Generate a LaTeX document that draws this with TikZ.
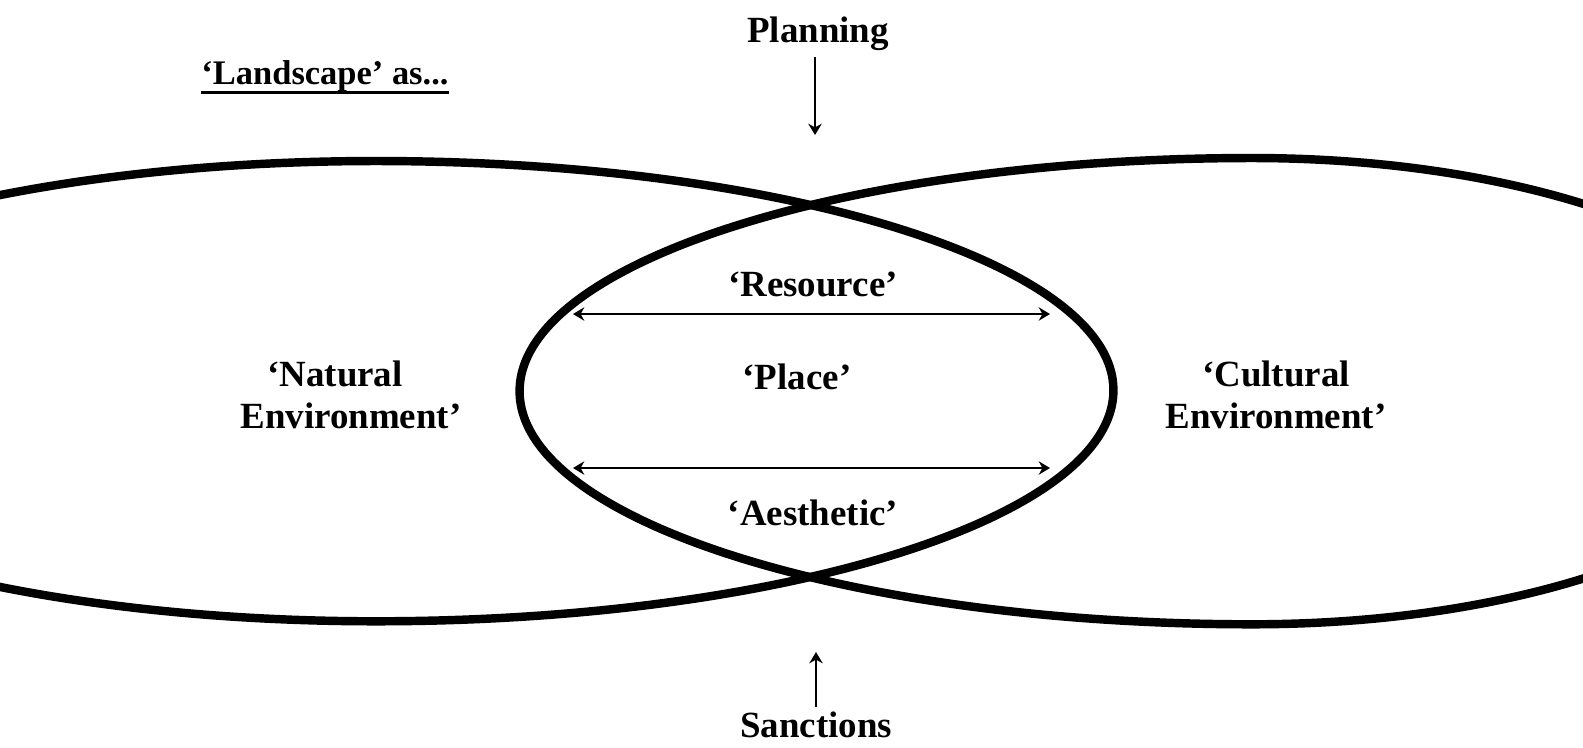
\documentclass[tikz,border=0pt]{standalone}
\usepackage{fontspec}
\setmainfont{Liberation Serif}
\usetikzlibrary{arrows.meta}
\begin{document}
\begin{tikzpicture}[x=0.01cm,y=-0.01cm,
  lbl/.style={font=\fontsize{10.5}{11.7}\selectfont\bfseries, inner sep=0pt, anchor=base, align=center},
  lens/.style={line width=2.4pt, line cap=round, line join=round},
  arr/.style={line width=0.55pt, -{Stealth[length=3.2pt,width=3.8pt]}},
  darr/.style={line width=0.55pt, {Stealth[length=3.2pt,width=3.8pt]}-{Stealth[length=3.2pt,width=3.8pt]}}]
\useasboundingbox (0,0) rectangle (1583,747);
\begin{scope}
  \clip (0,0) rectangle (1583,747);
  % left shape ('Natural Environment')
  \draw[lens] (376,161)
     arc[start angle=90, end angle=0, x radius=7.37cm, y radius=2.29cm]
     arc[start angle=0, end angle=-90, x radius=7.37cm, y radius=2.31cm]
     arc[start angle=270, end angle=180, x radius=7.16cm, y radius=2.31cm]
     arc[start angle=180, end angle=90, x radius=7.16cm, y radius=2.29cm] -- cycle;
  % right shape ('Cultural Environment')
  \draw[lens] (1252,158)
     arc[start angle=90, end angle=270, x radius=7.32cm, y radius=2.33cm]
     arc[start angle=270, end angle=450, x radius=5.56cm, y radius=2.33cm] -- cycle;
\end{scope}
% labels
\node[lbl] (planning) at (818,42) {Planning};
\node[lbl, font=\fontsize{9.8}{11}\selectfont\bfseries] (land) at (325,84) {`Landscape' as...};
\draw[line width=0.9pt] ([yshift=-2.3pt]land.base west) -- ([yshift=-2.3pt]land.base east);
\node[lbl] (resource) at (813,296) {`Resource'};
\node[lbl] (place) at (797,389) {`Place'};
\node[lbl] (aesthetic) at (813,525) {`Aesthetic'};
\node[lbl] (sanctions) at (816,737) {Sanctions};
\node[lbl] (natural) at (351,428) {`Natural\hspace*{0.32cm}\\Environment'};
\node[lbl] (cultural) at (1276,428) {`Cultural\\Environment'};
% arrows
\coordinate (pA) at (815,57);
\coordinate (pB) at (815,135);
\coordinate (sA) at (816,707);
\coordinate (sB) at (816,652);
\coordinate (rL) at (573,314);
\coordinate (rR) at (1050,314);
\coordinate (aL) at (573,468);
\coordinate (aR) at (1050,468);
\draw[arr] (pA) -- (pB);
\draw[arr] (sA) -- (sB);
\draw[darr] (rL) -- (rR);
\draw[darr] (aL) -- (aR);
\end{tikzpicture}
\end{document}
